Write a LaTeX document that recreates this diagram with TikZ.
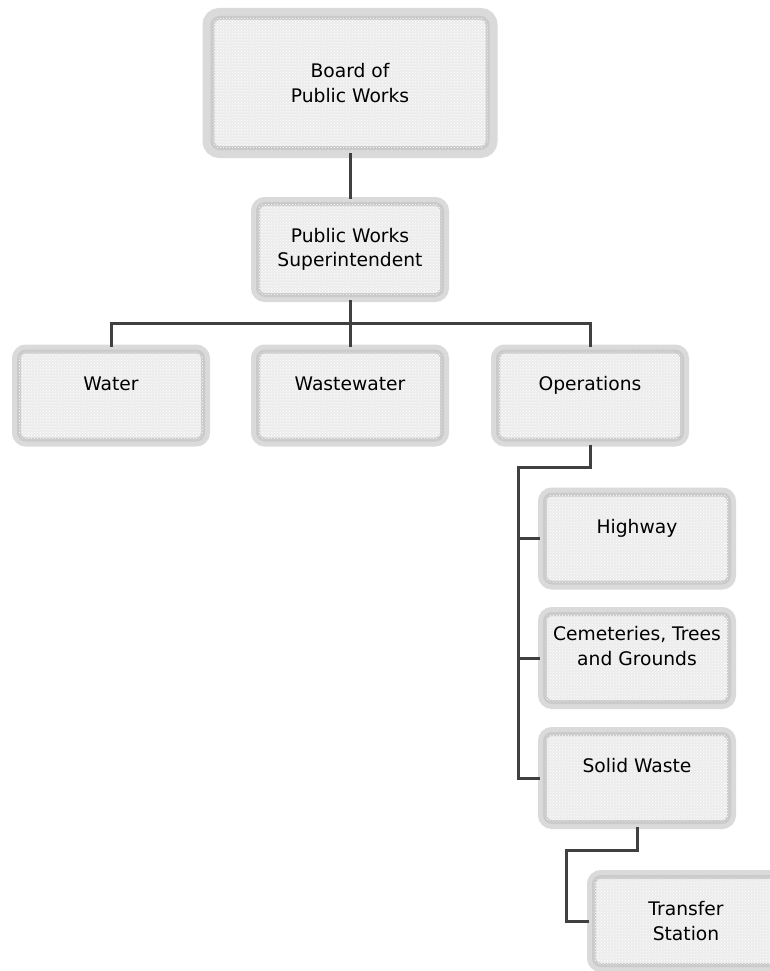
\documentclass[tikz,border=0pt]{standalone}
\usepackage{fontspec}
\setmainfont{DejaVu Sans}
\usetikzlibrary{patterns}
\definecolor{bandlight}{HTML}{DADADA}
\definecolor{bandring}{HTML}{CACACA}
\definecolor{boxfill}{HTML}{ECECEC}
\definecolor{linkgray}{HTML}{404040}
\begin{document}
\begin{tikzpicture}[x=1pt,y=-1pt,
  orgbox/.style={rectangle, rounded corners=7pt,
    minimum width=184pt, minimum height=88pt,
    align=center, inner sep=0pt, text=black,
    font=\fontsize{18.7pt}{24.5pt}\selectfont,
    preaction={draw=bandlight, line width=14pt},
    fill=boxfill, draw=bandring, line width=4pt,
    postaction={pattern=crosshatch dots, pattern color=white}},
  topbox/.style={orgbox, preaction={draw=bandlight, line width=20pt}},
  link/.style={draw=linkgray, line width=3pt, shorten <=3pt, shorten >=3pt}
]
\useasboundingbox (0,0) rectangle (770,971);
\clip (0,0) rectangle (770,971);

% boxes
\node[topbox, minimum width=275pt, minimum height=130pt] (board) at (350,83) {Board of\\Public Works};
\node[orgbox, minimum height=91pt] (super) at (350,249.5) {Public Works\\Superintendent};
\node[orgbox] (water) at (111,395.5) {Water\\~};
\node[orgbox] (waste) at (350,395.5) {Wastewater\\~};
\node[orgbox] (ops) at (590,395.5) {Operations\\~};
\node[orgbox] (highway) at (637,538.5) {Highway\\~};
\node[orgbox] (cem) at (637,658) {Cemeteries, Trees\\and Grounds\\~};
\node[orgbox] (solid) at (637,778) {Solid Waste\\~};
\node[orgbox] (transfer) at (686,921) {Transfer\\Station};

% bends of the connector lines
\coordinate (bus) at (350,323);
\coordinate (opsbend) at (518,467);
\coordinate (swbend) at (566,850);

% connectors
\draw[link] (board.south) -- (super.north);
\draw[link] (super.south) -- (waste.north);
\draw[link] (water.north) |- (bus) -| (ops.north);
\draw[link] (ops.south) |- (opsbend) |- (solid.west);
\draw[link, shorten <=0pt] (highway.west -| opsbend) -- (highway.west);
\draw[link, shorten <=0pt] (cem.west -| opsbend) -- (cem.west);
\draw[link] (solid.south) |- (swbend) |- (transfer.west);
\end{tikzpicture}
\end{document}
